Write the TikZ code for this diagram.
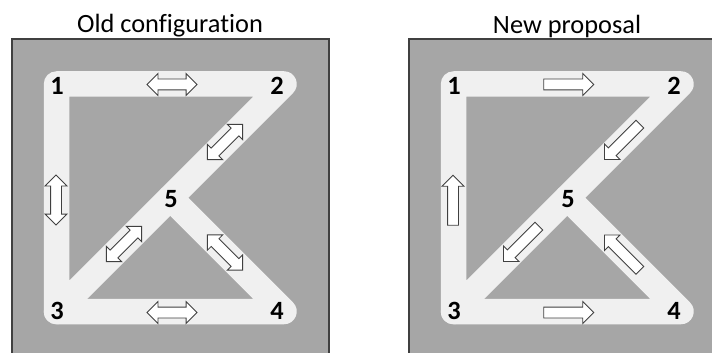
\documentclass[tikz,border=0pt]{standalone}
\usepackage{fontspec}
\setmainfont[Ligatures=CommonOff]{Carlito}
\usetikzlibrary{shapes.arrows}
\definecolor{panelgray}{HTML}{A6A6A6}
\definecolor{roadgray}{HTML}{F0F0F0}
\definecolor{edgegray}{HTML}{404040}
\tikzset{
	panel/.style={draw=edgegray,fill=panelgray,line width=0.8pt},
	road/.style={draw=roadgray,line width=0.51cm,line join=round,line cap=round},
	title/.style={inner sep=0pt,font=\fontsize{15}{18}\selectfont},
	num/.style={inner sep=0pt,font=\fontsize{15}{18}\selectfont\bfseries},
	arrowbase/.style={draw=edgegray,fill=white,line width=0.5pt,inner xsep=0pt,inner ysep=0.1cm,minimum height=1cm},
	dblarrow/.style={arrowbase,shape=double arrow,double arrow head extend=0.11cm},
	sglarrow/.style={arrowbase,shape=single arrow,single arrow head extend=0.11cm,xshift=-0.06cm}
}
\begin{document}
\begin{tikzpicture}
\useasboundingbox (0,0) rectangle (14.24,7.04);
\clip (0,0) rectangle (14.24,7.04);
\foreach \p/\dx/\name/\kind in {a/0/Old configuration/dblarrow,b/7.94/New proposal/sglarrow} {
\begin{scope}[xshift=\dx cm]
\node[title] (\p title) at (3.4,6.52) {\name};
\draw[panel] (0.24,-0.2) rectangle (6.58,6.26);

% road corners
\coordinate (\p r1) at (1.13,5.36);
\coordinate (\p r2) at (5.68,5.36);
\coordinate (\p r3) at (1.13,0.81);
\coordinate (\p r4) at (5.68,0.81);
\coordinate (\p r5) at (3.405,3.085);
\draw[road] (\p r1) -- (\p r2) -- (\p r3) -- cycle;
\draw[road] (\p r5) -- (\p r4) -- (\p r3);

% numbers
\node[num] (\p n1) at (1.14,5.32) {1};
\node[num] (\p n2) at (5.54,5.32) {2};
\node[num] (\p n3) at (1.14,0.82) {3};
\node[num] (\p n4) at (5.54,0.82) {4};
\node[num] (\p n5) at (3.42,3.06) {5};

% flow arrows
\node[\kind] (\p a12) at (3.44,5.35) {};
\node[rotate=90,\kind] (\p a31) at (1.12,3.04) {};
\node[rotate=225,\kind] (\p a25) at (4.5,4.2) {};
\node[rotate=225,\kind] (\p a53) at (2.48,2.16) {};
\node[rotate=135,\kind] (\p a45) at (4.5,1.99) {};
\node[\kind] (\p a34) at (3.44,0.79) {};
\end{scope}
}
\end{tikzpicture}
\end{document}
